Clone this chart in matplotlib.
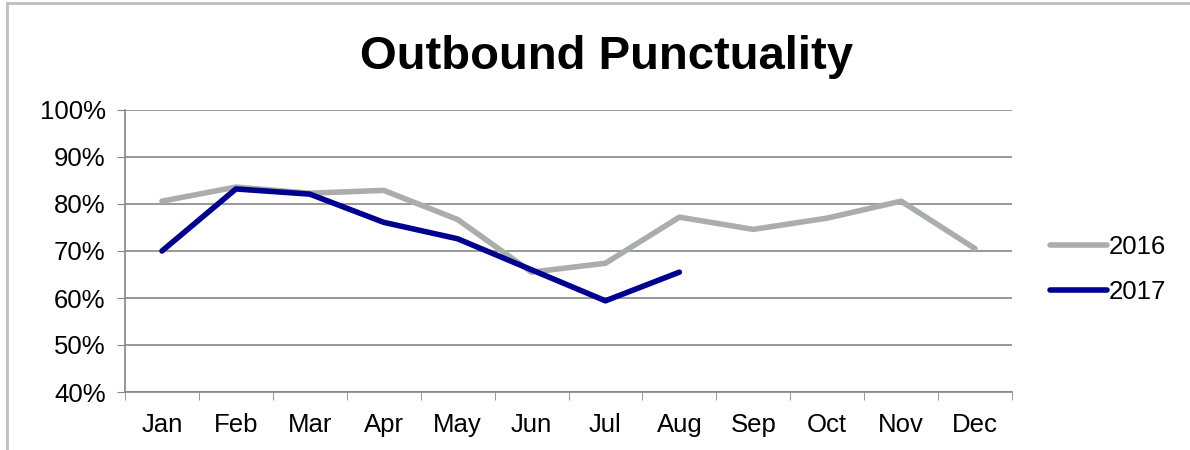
import matplotlib.pyplot as plt
from matplotlib.patches import Rectangle
from matplotlib.ticker import FuncFormatter, FixedLocator

months = ['Jan', 'Feb', 'Mar', 'Apr', 'May', 'Jun', 'Jul', 'Aug', 'Sep', 'Oct', 'Nov', 'Dec']
p2016 = [0.806, 0.836, 0.823, 0.829, 0.767, 0.655, 0.674, 0.772, 0.746, 0.770, 0.806, 0.705]
p2017 = [0.700, 0.832, 0.821, 0.761, 0.726, 0.660, 0.594, 0.655]

plt.rcParams['font.family'] = ['Liberation Sans', 'DejaVu Sans']

fig = plt.figure(figsize=(11.9, 4.5), dpi=100)
fig.patches.append(Rectangle((7 / 1190, -0.1), 1.2, 1.0 - 3 / 450 + 0.1,
                             transform=fig.transFigure, fill=False,
                             edgecolor='#bfbfbf', linewidth=2))

ax = fig.add_axes([125 / 1190, 1 - 392 / 450, (1012 - 125) / 1190, (392 - 110) / 450])
x = list(range(len(months)))
ax.plot(x, p2016, color='#a9aeac', linewidth=4, solid_capstyle='round', label='2016')
ax.plot(x[:len(p2017)], p2017, color='#000090', linewidth=4, solid_capstyle='round', label='2017')

ax.set_xlim(-0.5, 11.5)
ax.set_ylim(0.4, 1.0)
ax.set_yticks([0.4, 0.5, 0.6, 0.7, 0.8, 0.9, 1.0])
ax.yaxis.set_major_formatter(FuncFormatter(lambda v, p: f'{v*100:.0f}%'))
ax.set_xticks(x)
ax.set_xticklabels(months)
ax.xaxis.set_minor_locator(FixedLocator([i + 0.5 for i in range(-1, 12)]))
ax.tick_params(axis='x', which='major', length=0, pad=15, labelsize=18.5)
ax.tick_params(axis='x', which='minor', length=6, color='#868686', direction='out')
ax.tick_params(axis='y', length=6, color='#868686', direction='out', labelsize=18.5, pad=8)

ax.grid(axis='y', color='#868686', linewidth=1.2)
ax.set_axisbelow(True)
for s in ['top', 'right']:
    ax.spines[s].set_visible(False)
for s in ['left', 'bottom']:
    ax.spines[s].set_color('#868686')
    ax.spines[s].set_linewidth(1.2)

fig.text(607 / 1190, 1 - 57 / 450, 'Outbound Punctuality', ha='center', va='center',
         fontsize=34, fontweight='bold')

ax.legend(loc='center left', bbox_to_anchor=(1.043, 0.435), frameon=False, fontsize=18.5,
          handlelength=2.2, handletextpad=0.1, labelspacing=0.8, borderpad=0, borderaxespad=0)

fig.savefig('out.png', dpi=100)
